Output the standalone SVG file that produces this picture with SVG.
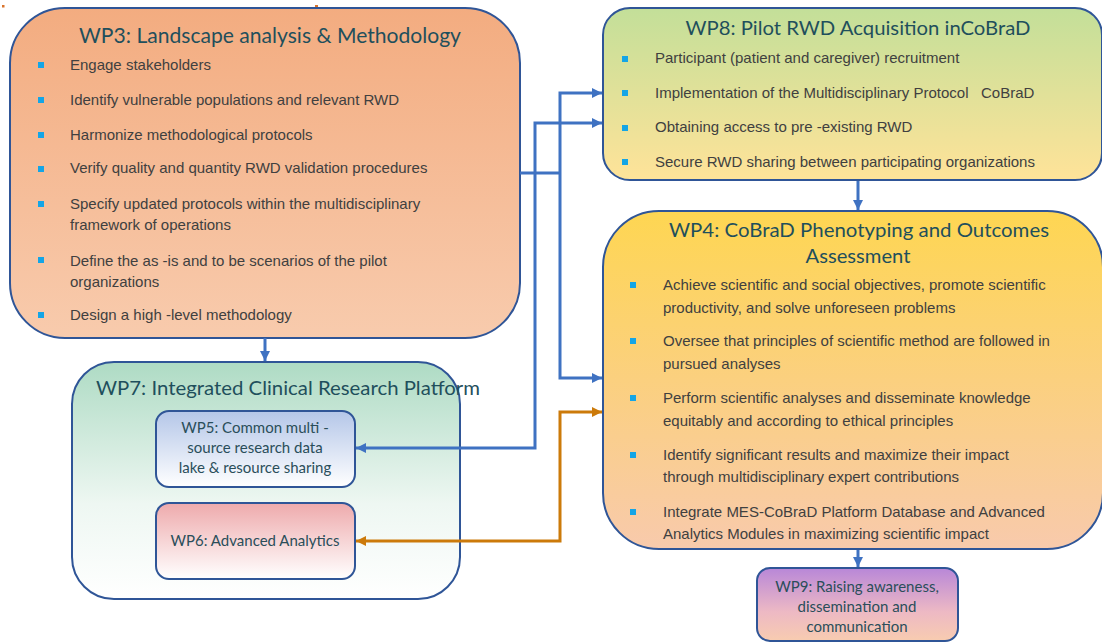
<svg xmlns="http://www.w3.org/2000/svg" width="1102" height="642" viewBox="0 0 1102 642">
<defs>
<linearGradient id="gWP3" x1="0" y1="0" x2="0" y2="1"><stop offset="0" stop-color="#F3AC80"/><stop offset="1" stop-color="#F8CBAD"/></linearGradient>
<linearGradient id="gWP8" x1="0" y1="0" x2="0" y2="1"><stop offset="0" stop-color="#C3DF99"/><stop offset="1" stop-color="#FFE399"/></linearGradient>
<linearGradient id="gWP4" x1="0" y1="0" x2="0" y2="1"><stop offset="0" stop-color="#FED652"/><stop offset="1" stop-color="#F8CAAC"/></linearGradient>
<linearGradient id="gWP7" x1="0" y1="0" x2="0" y2="1"><stop offset="0" stop-color="#AEDBC4"/><stop offset="0.6" stop-color="#EEF7F2"/><stop offset="1" stop-color="#FFFFFF"/></linearGradient>
<linearGradient id="gWP5" x1="0" y1="0" x2="0" y2="1"><stop offset="0" stop-color="#B4C6E8"/><stop offset="1" stop-color="#FFFFFF"/></linearGradient>
<linearGradient id="gWP6" x1="0" y1="0" x2="0" y2="1"><stop offset="0" stop-color="#EEAAAC"/><stop offset="1" stop-color="#FFFFFF"/></linearGradient>
<linearGradient id="gWP9" x1="0" y1="0" x2="0" y2="1"><stop offset="0" stop-color="#B887D8"/><stop offset="0.6" stop-color="#EDB9C4"/><stop offset="1" stop-color="#F8CCB0"/></linearGradient>
<marker id="arB" viewBox="0 0 10 10" refX="10" refY="5" markerWidth="10" markerHeight="10" markerUnits="userSpaceOnUse" orient="auto-start-reverse"><path d="M0,0 L10,5 L0,10 z" fill="#3F72C2"/></marker>
<marker id="arO" viewBox="0 0 10 10" refX="10" refY="5" markerWidth="10" markerHeight="10" markerUnits="userSpaceOnUse" orient="auto-start-reverse"><path d="M0,0 L10,5 L0,10 z" fill="#CC7A0A"/></marker>
<style>
.box{stroke:#2F5597;stroke-width:2}
.ttl{font-family:Lato,"Open Sans",sans-serif;fill:#1F4F5C}
.t{font-family:"Liberation Sans",Arial,sans-serif;font-size:15px;fill:#404040}
.sm{font-family:Lato,"Open Sans",sans-serif;font-size:15px;fill:#2A4E5A;text-anchor:middle}
.bl{fill:#14A5E6}
.cb{fill:none;stroke:#3F72C2;stroke-width:3}
.co{fill:none;stroke:#CC7A0A;stroke-width:3}
</style>
</defs>
<rect x="2" y="5" width="2.5" height="2.5" fill="#D9742C"/>
<rect x="315" y="5" width="3" height="3" fill="#D9742C"/>
<g id="WP3">
<rect class="box" x="10" y="8" width="510" height="330" rx="55" ry="55" fill="url(#gWP3)"/>
<text class="ttl" x="270" y="43" font-size="21" text-anchor="middle" textLength="382" lengthAdjust="spacingAndGlyphs">WP3: Landscape analysis &amp; Methodology</text>
<rect class="bl" x="38" y="62" width="6" height="6"/><text class="t" x="70" y="70">Engage stakeholders</text>
<rect class="bl" x="38" y="97" width="6" height="6"/><text class="t" x="70" y="105">Identify vulnerable populations and relevant RWD</text>
<rect class="bl" x="38" y="132" width="6" height="6"/><text class="t" x="70" y="140">Harmonize methodological protocols</text>
<rect class="bl" x="38" y="166" width="6" height="6"/><text class="t" x="70" y="173">Verify quality and quantity RWD validation procedures</text>
<rect class="bl" x="38" y="201" width="6" height="6"/><text class="t" x="70" y="209">Specify updated protocols within the multidisciplinary</text><text class="t" x="70" y="230">framework of operations</text>
<rect class="bl" x="38" y="257" width="6" height="6"/><text class="t" x="70" y="266">Define the as -is and to be scenarios of the pilot</text><text class="t" x="70" y="287">organizations</text>
<rect class="bl" x="38" y="312" width="6" height="6"/><text class="t" x="70" y="320">Design a high -level methodology</text>
</g>
<g id="WP8">
<rect class="box" x="603" y="8" width="499" height="172" rx="27" ry="27" fill="url(#gWP8)"/>
<text class="ttl" x="858" y="35" font-size="20" text-anchor="middle" textLength="345" lengthAdjust="spacingAndGlyphs">WP8: Pilot RWD Acquisition inCoBraD</text>
<rect class="bl" x="622" y="56" width="6" height="6"/><text class="t" x="655" y="63">Participant (patient and caregiver) recruitment</text>
<rect class="bl" x="622" y="90" width="6" height="6"/><text class="t" x="655" y="98" style="white-space:pre">Implementation of the Multidisciplinary Protocol   CoBraD</text>
<rect class="bl" x="622" y="125" width="6" height="6"/><text class="t" x="655" y="132">Obtaining access to pre -existing RWD</text>
<rect class="bl" x="622" y="159" width="6" height="6"/><text class="t" x="655" y="167">Secure RWD sharing between participating organizations</text>
</g>
<g id="WP4">
<rect class="box" x="603" y="211" width="500" height="338" rx="56" ry="56" fill="url(#gWP4)"/>
<text class="ttl" x="859" y="237" font-size="20" text-anchor="middle" textLength="380" lengthAdjust="spacingAndGlyphs">WP4: CoBraD Phenotyping and Outcomes</text>
<text class="ttl" x="858" y="263" font-size="20" text-anchor="middle" textLength="105" lengthAdjust="spacingAndGlyphs">Assessment</text>
<rect class="bl" x="630" y="282" width="6" height="6"/><text class="t" x="663" y="290">Achieve scientific and social objectives, promote scientific</text><text class="t" x="663" y="313">productivity, and solve unforeseen problems</text>
<rect class="bl" x="630" y="338" width="6" height="6"/><text class="t" x="663" y="346">Oversee that principles of scientific method are followed in</text><text class="t" x="663" y="369">pursued analyses</text>
<rect class="bl" x="630" y="395" width="6" height="6"/><text class="t" x="663" y="403">Perform scientific analyses and disseminate knowledge</text><text class="t" x="663" y="426">equitably and according to ethical principles</text>
<rect class="bl" x="630" y="452" width="6" height="6"/><text class="t" x="663" y="460">Identify significant results and maximize their impact</text><text class="t" x="663" y="482">through multidisciplinary expert contributions</text>
<rect class="bl" x="630" y="509" width="6" height="6"/><text class="t" x="663" y="517">Integrate MES-CoBraD Platform Database and Advanced</text><text class="t" x="663" y="539">Analytics Modules in maximizing scientific impact</text>
</g>
<g id="WP7">
<rect class="box" x="72" y="362" width="388" height="237" rx="42" ry="42" fill="url(#gWP7)"/>
<text class="ttl" x="96" y="395" font-size="19" textLength="384" lengthAdjust="spacingAndGlyphs">WP7: Integrated Clinical Research Platform</text>
</g>
<g id="WP5">
<rect class="box" x="156" y="411" width="199" height="76" rx="13" ry="13" fill="url(#gWP5)"/>
<text class="sm" x="255" y="433">WP5: Common multi -</text>
<text class="sm" x="255" y="453">source research data</text>
<text class="sm" x="255" y="473">lake &amp; resource sharing</text>
</g>
<g id="WP6">
<rect class="box" x="156" y="503" width="199" height="76" rx="13" ry="13" fill="url(#gWP6)"/>
<text class="sm" x="255" y="546">WP6: Advanced Analytics</text>
</g>
<g id="WP9">
<rect class="box" x="757" y="568" width="201" height="73" rx="13" ry="13" fill="url(#gWP9)"/>
<text class="sm" x="857" y="592">WP9: Raising awareness,</text>
<text class="sm" x="857" y="612">dissemination and</text>
<text class="sm" x="857" y="632">communication</text>
</g>
<g id="connectors">
<path class="cb" d="M265,338 V361" marker-end="url(#arB)"/>
<path class="cb" d="M520,173 H560"/>
<path class="cb" d="M560,173 V93 H602" marker-end="url(#arB)"/>
<path class="cb" d="M535,173 V123 H602" marker-end="url(#arB)"/>
<path class="cb" d="M560,173 V378 H602" marker-end="url(#arB)"/>
<path class="cb" d="M535,173 V448 H356" marker-end="url(#arB)"/>
<path class="co" d="M356,541 H560 V412 H602" marker-start="url(#arO)" marker-end="url(#arO)"/>
<path class="cb" d="M858,181 V210" marker-end="url(#arB)"/>
<path class="cb" d="M858,550 V567" marker-end="url(#arB)"/>
</g>
</svg>
